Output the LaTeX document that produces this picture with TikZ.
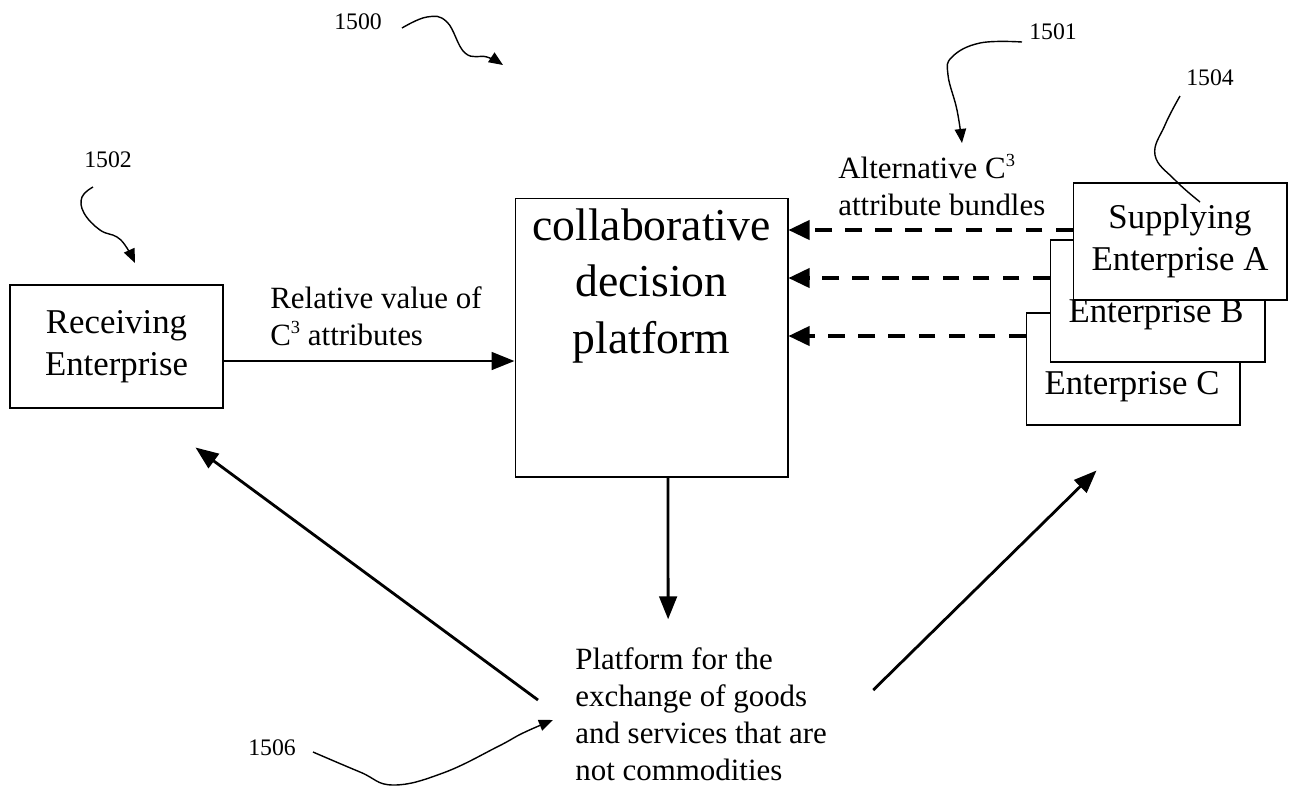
\documentclass[tikz,border=0pt]{standalone}
\usepackage{fontspec}
\setmainfont{Liberation Serif}
\usetikzlibrary{arrows.meta,positioning}
\newcommand{\cube}{C\raisebox{0.8ex}{\fontsize{10.5}{10.5}\selectfont 3}}

\begin{document}
\begin{tikzpicture}[x=0.02cm,y=-0.02cm,
	box/.style={draw,line width=0.6pt,fill=white,inner sep=0pt},
	boxtxt/.style={font=\fontsize{19.8}{24}\selectfont,align=center,inner sep=0pt},
	lbl/.style={font=\fontsize{17.6}{21}\selectfont,align=left,inner sep=0pt},
	refnum/.style={font=\fontsize{13.5}{16}\selectfont,inner sep=0pt},
	flow/.style={line width=1.6pt,-{Triangle[length=13pt,width=10pt]}},
	offer/.style={line width=1.8pt,dash pattern=on 9.6pt off 7.5pt,-{Triangle[length=12pt,width=11pt]}},
	refarr/.style={line width=0.8pt,-{Triangle[length=8pt,width=6.5pt]}}]

	\useasboundingbox (0,0) rectangle (1299,796);

	\node[box,boxtxt,minimum width=4.26cm,minimum height=2.46cm] (recv) at (116.5,346.5) {Receiving\\Enterprise};
	\node[box,minimum width=5.46cm,minimum height=5.58cm] (cdp) at (651.5,337.5) {};
	\node[font=\fontsize{26}{32.3}\selectfont,align=center,inner sep=0pt] (cdptxt) at (651.5,286) {collaborative\\decision\\platform};

	\node[box,minimum width=4.28cm,minimum height=2.24cm] (supC) at (1133,369) {};
	\node[boxtxt] (supCtxt) at (1132,387) {Enterprise C};
	\node[box,minimum width=4.3cm,minimum height=2.44cm] (supB) at (1157.5,301) {};
	\node[boxtxt] (supBtxt) at (1156,315) {Enterprise B};
	\node[box,boxtxt,minimum width=4.28cm,minimum height=2.34cm] (supA) at (1180,241.5) {Supplying\\Enterprise A};

	\node[lbl,anchor=west] (relval) at (270,316) {Relative value of\\\cube{} attributes};
	\node[lbl,anchor=west] (altbun) at (838,185) {Alternative \cube\\attribute bundles};
	\node[lbl,anchor=west] (plat) at (575,714) {Platform for the\\exchange of goods\\and services that are\\not commodities};

	\node[refnum] (n1500) at (358,22) {1500};
	\node[refnum] (n1501) at (1053,32) {1501};
	\node[refnum] (n1502) at (108,160) {1502};
	\node[refnum] (n1504) at (1210,78) {1504};
	\node[refnum] (n1506) at (272,748) {1506};

	\draw[flow] ([shift={(0,14.5)}]recv.east) -- ([shift={(0,23.5)}]cdp.west);
	\draw[offer] ([shift={(0,-11.5)}]supA.west) -- ([shift={(0,-107.5)}]cdp.east);
	\draw[offer] ([shift={(0,-23)}]supB.west) -- ([shift={(0,-59.5)}]cdp.east);
	\draw[offer] ([shift={(0,-33)}]supC.west) -- ([shift={(0,-1.5)}]cdp.east);
	\draw[flow] ([shift={(16.5,0)}]cdp.south) -- ([shift={(-33,-28)}]plat.north);
	\draw[flow] ([shift={(-37,-14)}]plat.west) -- ([shift={(-28,39)}]recv.south east);
	\draw[flow] ([shift={(46,-24)}]plat.east) -- ([shift={(71,45)}]supC.south west);

	\draw[refarr] plot[smooth,tension=0.7] coordinates {(402,28) (427,17) (447,22) (465,53) (487,57) (503,65)};
	\draw[refarr] plot[smooth,tension=0.7] coordinates {(93,187) (82,197) (84,213) (100,230) (117,237) (127,248) (135,263)};
	\draw[refarr] plot[smooth,tension=0.7] coordinates {(1022,42) (980,43) (952,57) (948,75) (957,110) (962,143)};
	\draw[line width=0.8pt] plot[smooth,tension=0.7] coordinates {(1180,96) (1165,125) (1155,155) (1175,180) (1200,202)};
	\draw[refarr] plot[smooth,tension=0.7] coordinates {(313,752) (360,772) (393,785) (443,773) (497,747) (523,733) (553,720)};
\end{tikzpicture}
\end{document}
